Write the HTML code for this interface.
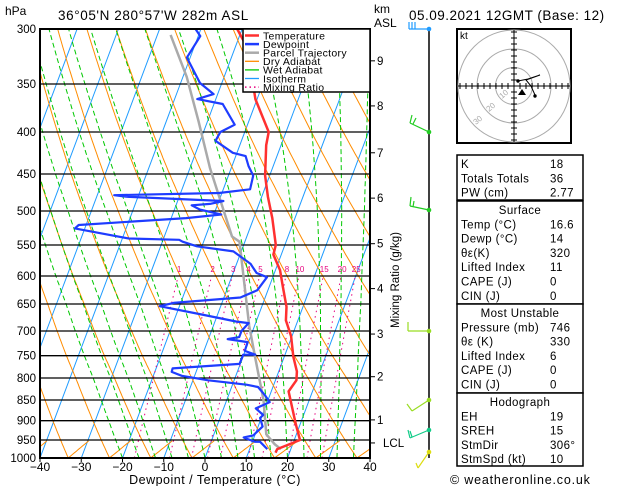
<!DOCTYPE html>
<html><head><meta charset="utf-8"><style>
html,body{margin:0;padding:0;background:#fff;}
svg{display:block;font-family:"Liberation Sans",sans-serif;}
</style></head><body>
<svg id="chart" width="629" height="486" viewBox="0 0 629 486" xmlns="http://www.w3.org/2000/svg">
<defs><clipPath id="plotclip"><rect x="40" y="29" width="330" height="429"/></clipPath></defs>
<rect x="0" y="0" width="629" height="486" fill="#fff"/>
<text x="5" y="15" font-size="12">hPa</text>
<text x="58" y="20" font-size="13.5" letter-spacing="0.6">36°05'N  280°57'W  282m  ASL</text>
<text x="374" y="13" font-size="12">km</text>
<text x="374" y="27" font-size="12">ASL</text>
<text x="409" y="20" font-size="13.5" letter-spacing="0.5">05.09.2021  12GMT  (Base: 12)</text>
<g id="bg" clip-path="url(#plotclip)"></g>
<g id="grid"></g>
<g id="series" clip-path="url(#plotclip)"></g>
<rect x="40" y="29" width="330" height="429" fill="none" stroke="#000" stroke-width="2"/>
<g id="axes"></g>
<g id="legend">
<rect x="243" y="29" width="127" height="63" fill="#fff" stroke="#000" stroke-width="1.5"/>
</g>
<g id="right"></g>
</svg>
<script>
// ---- data ----
const pTicks=[1000,950,900,850,800,750,700,650,600,550,500,450,400,350,300];
const tTicks=[-40,-30,-20,-10,0,10,20,30,40];
const tempP=[985,975,950,910,830,805,785,752,710,680,655,620,590,565,550,510,480,452,415,400,365,358,310,300];
const tempT=[16.6,16.7,21.4,19.0,14.2,15.1,14.4,12.2,9.8,7.1,6.0,3.4,1.1,-1.9,-2.2,-5.5,-8.5,-11.1,-13.6,-14.2,-20.4,-21.3,-28.6,-31.2];
const dewP=[975,955,955,945,943,938,915,893,886,870,855,838,820,815,805,795,786,778,768,748,748,740,722,716,712,700,685,682,668,654,648,638,625,602,595,580,560,552,545,542,540,525,520,510,505,498,492,490,486,480,478,475,470,452,440,428,424,410,400,392,370,365,360,349,325,306,300];
const dewT=[14.3,11.9,10.7,7.9,7.5,9.6,11.1,9.7,10.2,7.8,10.6,8.7,6.4,3.4,-6.3,-13.1,-15.9,-16.0,-0.2,-0.1,2.8,-0.1,-0.2,-5.3,-2.7,-2.7,-1.7,-4.9,-14.5,-24.8,-21.7,-6.0,-2.6,-1.4,-4.3,-6.6,-11.9,-21.2,-25.1,-26.1,-38.4,-52.4,-51.8,-26.4,-18.2,-23.8,-26.2,-21.9,-18.9,-42.9,-45.9,-20.7,-13.5,-14.0,-16.0,-17.6,-21.0,-26.3,-25.9,-23.1,-27.9,-34.5,-31.0,-35.3,-40.8,-39.5,-41.3];
const parcelP=[975,962,935,850,752,690,545,537,443,388,343,305];
const parcelT=[17.6,15.7,12.7,8.9,2.9,-1.3,-11.3,-13.6,-25.1,-32.2,-39.1,-46.8];
const mixRatios=[1,2,3,4,5,8,10,15,20,25];
const kmLabels=['1','2','3','4','5','6','7','8','9'];
const kmP=[898,797,706,622,548,482,424,372,328];

// ---- axes ----
const yTickPx=[458,440,420.7,400,378,355.7,331,304,276,245,211,174,132,84,29];
function yOfP(p){
  if(p>=1000) return 458+(Math.log(p)-Math.log(1000))*(-18/Math.log(1000/950));
  for(let i=0;i<pTicks.length-1;i++){
    const a=pTicks[i],b=pTicks[i+1];
    if(p<=a&&p>=b){const f=(Math.log(a)-Math.log(p))/(Math.log(a)-Math.log(b));return yTickPx[i]+f*(yTickPx[i+1]-yTickPx[i]);}
  }
  const i=pTicks.length-2;const a=pTicks[i],b=pTicks[i+1];
  const f=(Math.log(a)-Math.log(p))/(Math.log(a)-Math.log(b));return yTickPx[i]+f*(yTickPx[i+1]-yTickPx[i]);
}
const SKEW=0.375;
function xOf(T,p){return 40+(T+40)*4.125+SKEW*(458-yOfP(p));}
const NS='http://www.w3.org/2000/svg';
function mk(tag,attrs,parent){const e=document.createElementNS(NS,tag);for(const k in attrs)e.setAttribute(k,attrs[k]);parent.appendChild(e);return e;}
function poly(pts,attrs,parent){return mk('polyline',Object.assign({points:pts.map(q=>q[0].toFixed(1)+','+q[1].toFixed(1)).join(' '),fill:'none'},attrs),parent);}
const bg=document.getElementById('bg'),grid=document.getElementById('grid'),ser=document.getElementById('series'),axes=document.getElementById('axes'),right=document.getElementById('right'),legend=document.getElementById('legend');
const levels=[];for(let p=1050;p>=290;p-=5)levels.push(p);

// isotherms
for(let T=-120;T<=40;T+=10){
  const l=poly([[xOf(T,1000),yOfP(1000)],[xOf(T,300),yOfP(300)]],{stroke:'#1e9bff','stroke-width':1},bg);
  
  
}
// dry adiabats
for(let th=230;th<=480;th+=10){
  const pts=levels.map(p=>[xOf(th*Math.pow(p/1000,0.286)-273.15,p),yOfP(p)]);
  const l=poly(pts,{stroke:'#ff8c00','stroke-width':1},bg);
  
  
}
// moist adiabats
function es(T){return 6.112*Math.exp(17.67*T/(T+243.5));}
for(let T0=-20;T0<=40;T0+=4){
  let T=T0+273.15,pts=[];
  for(let p=1000;p>=300;p-=5){
    pts.push([xOf(T-273.15,p),yOfP(p)]);
    const e=es(T-273.15),rs=0.622*e/(p-e);
    const dTdp=(287*T+2.5e6*rs)/(p*(1004+2.5e6*2.5e6*rs*0.622/(287*T*T)));
    T-=5*dTdp;
  }
  const l=poly(pts,{stroke:'#00c800','stroke-width':1,'stroke-dasharray':'5,3'},bg);
  
  
}
// mixing ratio lines
function tdOfW(w,p){const e=w*p/(622+w);const a=Math.log(e/6.112);return 243.5*a/(17.67-a);}
mixRatios.forEach(w=>{
  const pts=[];for(let p=1000;p>=600;p-=10)pts.push([xOf(tdOfW(w,p),p),yOfP(p)]);
  const l=poly(pts,{stroke:'#e6007e','stroke-width':1,'stroke-dasharray':'1.5,4'},bg);
  
  
  const t=mk('text',{x:xOf(tdOfW(w,600),600)+1,y:272,'font-size':8,fill:'#e6007e','text-anchor':'middle'},bg);
  
  
  t.textContent=String(w);
});
// pressure grid + labels
pTicks.forEach((p,i)=>{
  const y=yOfP(p);
  const l=mk('line',{x1:40,x2:370,y1:y,y2:y,stroke:'#000','stroke-width':1.3},grid);
  
  
  const t=mk('text',{x:36,y:y+4,'font-size':11.5,'text-anchor':'end'},axes);
  
  
  t.textContent=String(p);
});
tTicks.forEach(T=>{
  const x=40+(T+40)*4.125;
  mk('line',{x1:x,x2:x,y1:458,y2:462,stroke:'#000'},axes);
  const t=mk('text',{x:x,y:471,'font-size':12,'text-anchor':'middle'},axes);
  
  
  t.textContent=(T<0?'\u2212':'')+Math.abs(T);
});
{const t=mk('text',{x:215,y:484,'font-size':12.5,'text-anchor':'middle','letter-spacing':'0.5'},axes);


t.textContent='Dewpoint / Temperature (°C)';}
// km axis
kmLabels.forEach((k,i)=>{
  const y=yOfP(kmP[i]);
  mk('line',{x1:370,x2:375,y1:y,y2:y,stroke:'#000'},axes);
  const t=mk('text',{x:377,y:y+4,'font-size':11.5},axes);
  
  
  t.textContent=k;
});
{const y=yOfP(958);mk('line',{x1:370,x2:375,y1:y,y2:y,stroke:'#000'},axes);
const t=mk('text',{x:383,y:y+4,'font-size':11.5},axes);


t.textContent='LCL';}
{const t=mk('text',{x:0,y:0,'font-size':11.5,'text-anchor':'middle',transform:'translate(399,280) rotate(-90)'},axes);


t.textContent='Mixing Ratio (g/kg)';}

// series
function series(P,T,color,w,name){
  const l=poly(P.map((p,i)=>[xOf(T[i],p),yOfP(p)]),{stroke:color,'stroke-width':w,'stroke-linejoin':'round'},ser);
  
  
}
series(parcelP,parcelT,'#aaaaaa',2.5,'parcel-trajectory-line');
series(dewP,dewT,'#1e3cff',2.2,'dewpoint-line');
series(tempP,tempT,'#ff3030',2.5,'temperature-line');

// legend
const legItems=[['Temperature','#ff3030',0],['Dewpoint','#1e3cff',0],['Parcel Trajectory','#aaaaaa',0],['Dry Adiabat','#ff8c00',0],['Wet Adiabat','#00c800',0],['Isotherm','#1e9bff',0],['Mixing Ratio','#e6007e',1]];
legItems.forEach((it,i)=>{
  const y=35.5+i*8.6;
  const l=mk('line',{x1:245,x2:259,y1:y,y2:y,stroke:it[1],'stroke-width':it[2]?1.5:(i<3?2.5:1.3),'stroke-dasharray':it[2]?'1.5,3':'none'},legend);
  
  
  const t=mk('text',{x:263,y:y+3.8,'font-size':10.5,'letter-spacing':'0.3'},legend);
  
  
  t.textContent=it[0];
});

// wind barbs
mk('line',{x1:429,x2:429,y1:29,y2:458,stroke:'#000','stroke-width':1.5},right);
const barbs=[
 [29,'#1e9bff','429,29 409,29','409,29 409,22 M412,29 412,22 M415,29 415,22'],
 [132,'#22cc22','429,132 410,123','410,123 412,115 M413,124 416,118'],
 [210,'#22cc22','429,210 410,206','410,206 411,197 M413,207 414,201'],
 [331,'#99dd22','429,331 408,331','408,331 408,322'],
 [400,'#99dd22','429,400 412,411','412,411 407,404'],
 [430,'#11cc88','429,430 410,438','410,438 408,430 M412,437 410,431'],
 [452,'#dddd11','429,452 418,468','418,468 416,463']
];
barbs.forEach(b=>{
  const g=mk('g',{},right);
  
  
  mk('polyline',{points:b[2],fill:'none',stroke:b[1],'stroke-width':1.2},g);
  mk('path',{d:'M'+b[3],fill:'none',stroke:b[1],'stroke-width':1.2},g);
  mk('circle',{cx:429,cy:b[0],r:2.3,fill:b[1]},g);
});

// hodograph
const hg=mk('g',{},right);


mk('rect',{x:457,y:29,width:114,height:114,fill:'#fff',stroke:'#000','stroke-width':2},hg);
[18.5,37,56].forEach(r=>mk('circle',{cx:514,cy:86,r:r,fill:'none',stroke:'#aaa','stroke-width':1},hg));
mk('line',{x1:458,x2:570,y1:86,y2:86,stroke:'#000'},hg);
mk('line',{x1:514,x2:514,y1:30,y2:142,stroke:'#000'},hg);
for(let d=-54;d<=54;d+=6){if(d===0)continue;
  mk('line',{x1:514+d,x2:514+d,y1:83,y2:89,stroke:'#000'},hg);
  mk('line',{x1:511,x2:517,y1:86+d,y2:86+d,stroke:'#000'},hg);}
[['10',502,99],['20',489,112],['30',476,125]].forEach(a=>{const t=mk('text',{x:a[1],y:a[2],'font-size':8,fill:'#aaa',transform:'rotate(-40 '+a[1]+' '+a[2]+')'},hg);t.textContent=a[0];});
mk('text',{x:460,y:39,'font-size':10},hg).textContent='kt';
mk('polyline',{points:'518,81 528,79 540,75 526,80 531,86 535,95',fill:'none',stroke:'#000','stroke-width':1},hg);
mk('circle',{cx:518,cy:81,r:1.7,fill:'#000'},hg);
mk('circle',{cx:535,cy:96,r:1.7,fill:'#000'},hg);
mk('polygon',{points:'518,95 522,89 526,95',fill:'#000'},hg);

// tables
function table(y0,h,rows,title,nm){
  const g=mk('g',{},right);
  
  
  mk('rect',{x:457,y:y0,width:126,height:h,fill:'#fff',stroke:'#000','stroke-width':1.5},g);
  let y=y0+13;
  if(title){const t=mk('text',{x:520,y:y,'font-size':11.5,'text-anchor':'middle','letter-spacing':'0.4'},g);t.textContent=title;y+=14.3;}
  rows.forEach(r=>{
    const a=mk('text',{x:461,y:y,'font-size':11.5,'letter-spacing':'0.4'},g);a.textContent=r[0];
    const b=mk('text',{x:550,y:y,'font-size':11.5,'letter-spacing':'0.4'},g);b.textContent=r[1];
    y+=14.3;
  });
}
table(155,45,[['K','18'],['Totals Totals','36'],['PW (cm)','2.77']],null,'indices-table');
table(201,103,[['Temp (°C)','16.6'],['Dewp (°C)','14'],['θε(K)','320'],['Lifted Index','11'],['CAPE (J)','0'],['CIN (J)','0']],'Surface','surface-table');
table(304,89,[['Pressure (mb)','746'],['θε (K)','330'],['Lifted Index','6'],['CAPE (J)','0'],['CIN (J)','0']],'Most Unstable','most-unstable-table');
table(393,73,[['EH','19'],['SREH','15'],['StmDir','306°'],['StmSpd (kt)','10']],'Hodograph','hodograph-table');
{const t=mk('text',{x:450,y:484,'font-size':12.5,'letter-spacing':'0.8'},right);


t.textContent='© weatheronline.co.uk';}
</script>
</body></html>
